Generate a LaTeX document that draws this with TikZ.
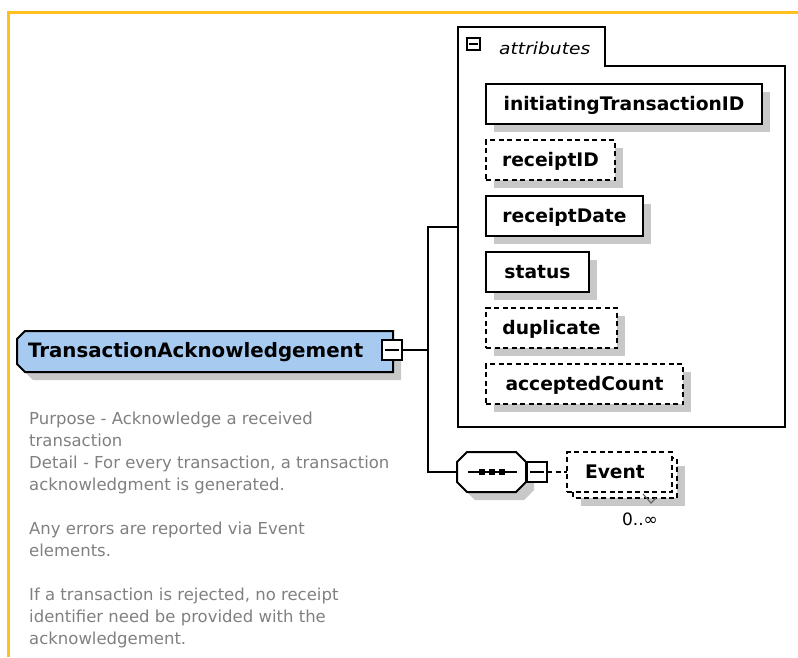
\documentclass[tikz,border=0pt]{standalone}
\usepackage{fontspec}
\setmainfont{DejaVu Sans}
\newfontfamily\tabfont{DejaVu Sans}[FakeStretch=1.13]
\usetikzlibrary{shadows}
\definecolor{frameyellow}{RGB}{255,192,32}
\definecolor{elemblue}{RGB}{166,202,240}
\definecolor{shadowgray}{RGB}{200,200,200}
\definecolor{descgray}{RGB}{128,128,128}
\tikzset{
  ln/.style={line width=2pt, draw=black},
  dashln/.style={ln, dash pattern=on 5pt off 3.5pt},
  boxshadow/.style={drop shadow={shadow xshift=8pt, shadow yshift=-8pt, fill=shadowgray, opacity=1}},
  attrbox/.style={ln, fill=white, boxshadow, rectangle, anchor=north west, outer sep=0pt,
    minimum height=40pt, inner xsep=0pt,
    font=\fontsize{18.7pt}{20pt}\selectfont\bfseries, text height=13.6pt, text depth=0.6pt},
  optattr/.style={attrbox, dashln},
  minusbox/.style={ln, fill=white, rectangle, outer sep=0pt, minimum width=#1, minimum height=#1, inner sep=0pt,
    path picture={\draw[line width=2pt] ([xshift=-0.33*#1]path picture bounding box.center) -- ([xshift=0.33*#1]path picture bounding box.center);}},
  ghost/.style={rectangle, draw=none, inner sep=0pt, outer sep=0pt, anchor=north west},
  desc/.style={font=\fontsize{16.5pt}{22pt}\selectfont, text=descgray, anchor=base west, inner sep=0pt},
}
\begin{document}
\begin{tikzpicture}[x=1pt,y=-1pt]
\useasboundingbox (0,0) rectangle (798,657);
% frame
\draw[frameyellow, line width=2.6pt] (8.2,657) -- (8.2,12.2) -- (798,12.2);

% main element
\fill[shadowgray] (33,339) -- (401,339) -- (401,380) -- (33,380) -- (25,372) -- (25,347) -- cycle;
\draw[ln, fill=elemblue] (25,331) -- (393,331) -- (393,372) -- (25,372) -- (17,364) -- (17,339) -- cycle;
\node[ghost, minimum width=376pt, minimum height=41pt, text width=354pt, inner xsep=11pt, align=left,
  font=\fontsize{19.8pt}{21pt}\selectfont\bfseries, text height=14pt, text depth=3pt] (main) at (17,331) {TransactionAcknowledgement};
\node[minusbox=20pt] (mminus) at (392,349.5) {};

% attributes container
\draw[ln, fill=white] (458,27) -- (605,27) -- (605,66) -- (785,66) -- (785,427) -- (458,427) -- cycle;
\node[ghost, minimum width=327pt, minimum height=400pt] (attrs) at (458,27) {};
\node[minusbox=12.5pt, line width=1.6pt] (aminus) at (473.5,44) {};
\node[anchor=base west, inner sep=0pt, font=\tabfont\itshape\fontsize{16.5pt}{18pt}\selectfont] (atitle) at (499,54) {attributes};

\node[attrbox, minimum width=276pt] (a1) at (486,84) {initiatingTransactionID};
\node[optattr, minimum width=129pt] (a2) at (486,140) {receiptID};
\node[attrbox, minimum width=157pt] (a3) at (486,196) {receiptDate};
\node[attrbox, minimum width=103pt] (a4) at (486,252) {status};
\node[optattr, minimum width=131pt] (a5) at (486,308) {duplicate};
\node[optattr, minimum width=197pt] (a6) at (486,364) {acceptedCount};

% sequence compositor
\fill[shadowgray] (475,460) -- (524,460) -- (534,470) -- (534,490) -- (524,500) -- (475,500) -- (465,490) -- (465,470) -- cycle;
\draw[ln, fill=white] (467,452) -- (516,452) -- (526,462) -- (526,482) -- (516,492) -- (467,492) -- (457,482) -- (457,462) -- cycle;
\node[ghost, minimum width=69pt, minimum height=40pt] (seq) at (457,452) {};
\draw[ln] (468,472) -- (517,472);
\foreach \dx in {482,492,502} \fill (\dx-3,469) rectangle (\dx+3,475);

\node[minusbox=20pt] (sminus) at (537,472) {};

% Event element (repeating)
\fill[shadowgray] (581,466) rectangle (685,506);
\draw[dashln, fill=white] (573,458) rectangle (677,498);
\node[dashln, fill=white, rectangle, anchor=north west, outer sep=0pt, minimum width=105pt, minimum height=40pt,
  text width=69pt, inner xsep=18pt, align=left,
  font=\fontsize{18.7pt}{20pt}\selectfont\bfseries, text height=13.6pt, text depth=0.6pt] (event) at (567,452) {Event};
\draw[line width=1.2pt, black!60] (643,494) -- (651,503) -- (656,498);
\node[anchor=base, inner sep=0pt, font=\fontsize{17pt}{18pt}\selectfont] (mult) at (640,525) {0..∞};

% connectors
\coordinate (junc) at (428,349.5);
\draw[ln] (mminus.east) -- (junc);
\draw[ln] (junc) |- (attrs.west);
\draw[ln] (junc) |- (seq.west);
\draw[dashln] (sminus.east) -- (event.west);

% description
\foreach \yy/\txt [count=\i] in {424/{Purpose - Acknowledge a received},
  446/{transaction},
  468/{Detail - For every transaction, a transaction},
  490/{acknowledgment is generated.},
  534/{Any errors are reported via Event},
  556/{elements.},
  600/{If a transaction is rejected, no receipt},
  622/{identifier need be provided with the},
  644/{acknowledgement.}}
  \node[desc] (d\i) at (29,\yy) {\txt};
\end{tikzpicture}
\end{document}
